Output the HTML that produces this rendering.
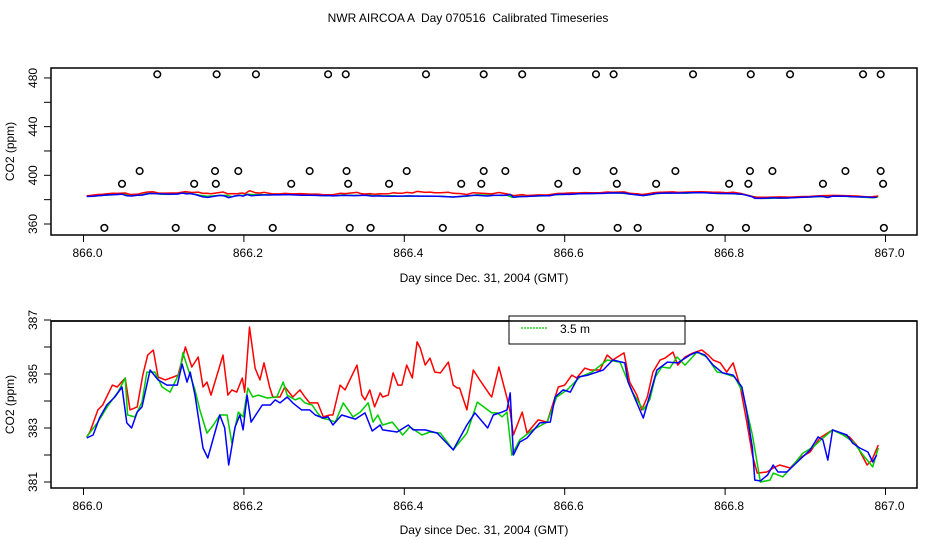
<!DOCTYPE html>
<html><head><meta charset="utf-8"><style>
html,body{margin:0;padding:0;background:#fff;}
svg{display:block;font-family:"Liberation Sans",Arial,sans-serif;}
text{white-space:pre;}
</style></head><body>
<svg id="chart" width="936" height="540" viewBox="0 0 936 540" xmlns="http://www.w3.org/2000/svg">
<text x="468" y="22" text-anchor="middle" font-size="12">NWR AIRCOA A  Day 070516  Calibrated Timeseries</text>
<g id="topPanel"></g>
<g id="botPanel"></g>
</svg>
<script>
const redT=[.004,.008,.018,.024,.036,.042,.052,.058,.067,.074,.080,.087,.093,.102,.112,.118,.127,.135,.143,.149,.154,.159,.174,.180,.185,.191,.198,.201,.207,.214,.220,.225,.232,.236,.245,.251,.261,.270,.276,.282,.292,.299,.307,.311,.320,.326,.341,.347,.351,.357,.363,.370,.373,.380,.386,.392,.397,.403,.410,.416,.420,.426,.432,.438,.445,.455,.461,.466,.469,.478,.486,.494,.507,.509,.518,.528,.532,.536,.547,.553,.567,.578,.592,.600,.609,.615,.625,.632,.644,.653,.660,.674,.681,.690,.696,.703,.710,.719,.725,.735,.741,.750,.760,.771,.779,.785,.794,.802,.810,.819,.827,.834,.840,.852,.860,.868,.881,.893,.906,.918,.934,.943,.955,.964,.977,.983,.991];
const redV=[382.67,382.85,383.67,383.85,384.59,384.52,384.85,383.67,383.78,384.96,385.70,385.89,384.89,384.78,384.89,384.96,386.00,385.26,385.63,384.52,384.70,384.22,385.70,384.22,384.41,384.33,384.85,384.33,386.74,385.22,384.78,385.41,384.52,384.15,384.15,384.52,384.15,384.41,384.15,383.93,383.93,383.41,383.48,383.48,384.59,384.41,385.33,384.22,384.04,384.41,383.78,384.30,384.15,384.22,385.04,384.59,384.59,385.33,384.85,386.19,385.96,385.33,385.59,385.07,385.04,385.44,384.59,384.48,384.48,383.67,385.15,384.78,384.22,384.15,385.26,384.11,383.59,382.74,383.59,382.81,383.30,383.22,384.52,384.59,384.96,384.85,385.22,385.15,385.15,385.70,385.52,385.78,384.70,384.22,383.67,384.15,385.07,385.52,385.59,385.81,385.33,385.63,385.78,385.89,385.70,385.52,385.41,385.07,385.41,384.52,383.22,382.00,381.33,381.37,381.52,381.63,381.52,381.89,382.11,382.63,382.93,382.81,382.67,382.37,381.63,381.81,382.37];
const greenT=[.004,.018,.031,.043,.052,.055,.064,.073,.079,.089,.098,.108,.120,.124,.130,.139,.145,.154,.162,.170,.179,.185,.193,.199,.205,.211,.218,.229,.241,.249,.254,.264,.270,.276,.285,.291,.297,.307,.314,.324,.336,.345,.355,.361,.367,.373,.385,.398,.407,.422,.432,.445,.461,.469,.478,.491,.504,.509,.516,.522,.528,.534,.544,.560,.578,.590,.603,.619,.634,.653,.669,.678,.685,.698,.706,.713,.721,.731,.740,.750,.765,.777,.790,.797,.812,.822,.834,.844,.856,.860,.872,.883,.897,.910,.922,.934,.947,.960,.972,.984,.991];
const greenV=[382.67,383.22,383.85,384.33,384.85,383.48,383.41,383.96,385.07,385.07,384.52,384.33,385.07,385.78,385.22,384.41,383.67,382.81,383.11,383.48,383.48,382.44,383.59,383.41,384.48,384.15,384.22,384.11,384.15,384.70,384.22,384.04,384.11,383.93,383.85,383.59,383.37,383.30,383.22,383.93,383.41,383.59,383.93,383.22,383.48,383.11,383.22,382.74,383.04,382.74,382.85,382.81,382.19,382.48,382.81,383.96,383.67,383.56,383.56,383.41,383.59,382.00,382.56,382.93,383.22,384.15,384.41,384.89,385.07,385.52,385.44,384.78,384.30,383.67,384.04,384.89,385.26,385.22,385.63,385.33,385.81,385.63,385.07,385.04,384.89,384.33,382.74,381.00,381.07,381.33,381.19,381.56,382.07,382.30,382.63,382.93,382.74,382.48,382.00,381.56,382.26];
const blueT=[.004,.012,.020,.029,.039,.048,.054,.060,.067,.073,.083,.093,.104,.117,.123,.129,.133,.139,.149,.155,.170,.176,.181,.189,.195,.199,.204,.209,.223,.233,.239,.245,.254,.261,.272,.282,.289,.299,.305,.311,.322,.339,.351,.360,.370,.373,.391,.405,.411,.426,.441,.461,.478,.488,.504,.511,.522,.528,.532,.536,.544,.553,.569,.582,.588,.598,.607,.617,.629,.648,.660,.675,.679,.690,.698,.709,.715,.728,.741,.756,.765,.775,.785,.797,.810,.821,.827,.834,.837,.844,.853,.860,.866,.877,.890,.906,.916,.922,.928,.934,.952,.959,.968,.978,.984,.989];
const blueV=[382.63,382.74,383.37,383.85,384.15,384.52,383.19,383.00,383.59,383.78,385.15,384.78,384.59,384.59,385.37,384.70,385.07,384.22,382.26,381.89,383.48,383.00,381.63,383.04,383.48,382.93,384.22,383.22,383.85,383.85,384.04,383.93,384.15,383.93,383.67,383.67,383.48,383.37,383.41,383.11,383.48,383.33,383.56,382.89,383.11,382.93,382.85,383.11,382.93,382.93,382.81,382.19,383.11,383.56,383.00,383.48,383.59,383.67,384.30,382.00,382.48,382.63,383.19,383.22,384.15,384.41,384.33,384.89,384.96,385.15,385.52,385.41,384.70,383.93,383.37,384.52,385.15,385.44,385.41,385.70,385.81,385.70,385.33,385.04,384.96,384.52,383.59,382.26,381.07,381.04,381.26,381.63,381.37,381.37,381.74,382.19,382.67,382.56,381.81,382.93,382.74,382.44,382.26,382.11,381.74,382.00];
const circleT=[.092,.166,.215,.305,.327,.427,.499,.547,.639,.661,.760,.832,.881,.972,.994,.070,.164,.193,.282,.328,.403,.499,.526,.615,.661,.738,.831,.859,.950,.994,.048,.138,.165,.259,.330,.381,.471,.496,.592,.665,.714,.805,.829,.922,.997,.026,.115,.160,.236,.332,.358,.448,.494,.570,.666,.691,.781,.826,.903,.998];
const circleV=[483,483,483,483,483,483,483,483,483,483,483,483,483,483,483,403.5,403.5,403.5,403.5,403.5,403.5,403.5,403.5,403.5,403.5,403.5,403.5,403.5,403.5,403.5,393,393,393,393,393,393,393,393,393,393,393,393,393,393,393,356.8,356.8,356.8,356.8,356.8,356.8,356.8,356.8,356.8,356.8,356.8,356.8,356.8,356.8,356.8];
const xTicks=[866.0,866.2,866.4,866.6,866.8,867.0];
const xTickLabels=["866.0","866.2","866.4","866.6","866.8","867.0"];
const topYTicks=[360,380,400,420,440,460,480];
const topYLabels=["360","400","440","480"];
const botYTicks=[381,382,383,384,385,386,387];
const botYLabels=["381","383","385","387"];

const NS="http://www.w3.org/2000/svg";
function mk(parent,tag,attrs){const e=document.createElementNS(NS,tag);for(const k in attrs)e.setAttribute(k,attrs[k]);parent.appendChild(e);return e;}
const xS=d=>83.5+(d-866)*802;

function panel(g,y0,y1,yS,yTicks,yLabels,prefix,xLabelY){
  const box=mk(g,'rect',{x:51,y:y0,width:866,height:y1-y0,fill:'none',stroke:'#000','stroke-width':1.5});
  
  
  xTicks.forEach((d,i)=>{
    const t=mk(g,'line',{x1:xS(d),x2:xS(d),y1:y1,y2:y1+7,stroke:'#000','stroke-width':1});
    
    
    const l=mk(g,'text',{x:xS(d)+4,y:y1+22,'text-anchor':'middle','font-size':12});
    l.textContent=xTickLabels[i];
    
    
  });
  yTicks.forEach(v=>{
    const t=mk(g,'line',{x1:44,x2:51,y1:yS(v),y2:yS(v),stroke:'#000','stroke-width':1});
    
    
  });
  yLabels.forEach(s=>{
    const v=parseFloat(s);
    const l=mk(g,'text',{x:0,y:0,'text-anchor':'middle','font-size':12,transform:`translate(37,${yS(v)}) rotate(-90)`});
    l.textContent=s;
    
    
  });
  const yt=mk(g,'text',{x:0,y:0,'text-anchor':'middle','font-size':12,transform:`translate(14,${(y0+y1)/2}) rotate(-90)`});
  yt.textContent='CO2 (ppm)';
  
  
  const xt=mk(g,'text',{x:484,y:xLabelY,'text-anchor':'middle','font-size':12});
  xt.textContent='Day since Dec. 31, 2004 (GMT)';
  
  
}
function series(g,T,V,yS,color,name){
  const p=T.map((t,i)=>xS(866+t).toFixed(1)+','+yS(V[i]).toFixed(1)).join(' ');
  const l=mk(g,'polyline',{points:p,fill:'none',stroke:color,'stroke-width':1.5,'stroke-linejoin':'round'});
  
  
}
// top panel
const topG=document.getElementById('topPanel');
const yTop=v=>224-(v-360)*1.217;
panel(topG,68,235,yTop,topYTicks,topYLabels,'top',282);
series(topG,greenT,greenV,yTop,'#00cc00','top-series-green');
series(topG,redT,redV.map(v=>v+0.6),yTop,'#ff0000','top-series-red');
series(topG,blueT,blueV,yTop,'#0000ff','top-series-blue');
circleT.forEach((t,i)=>{
  const c=mk(topG,'circle',{cx:xS(866+t),cy:yTop(circleV[i]),r:3.3,fill:'none',stroke:'#000','stroke-width':1.5});
  
  
});
// bottom panel
const botG=document.getElementById('botPanel');
const yBot=v=>482-(v-381)*27;
panel(botG,321,488,yBot,botYTicks,botYLabels,'bottom',534);
series(botG,redT,redV,yBot,'#ff0000','series-red');
series(botG,greenT,greenV,yBot,'#00cc00','series-green-3-5m');
series(botG,blueT,blueV,yBot,'#0000ff','series-blue');
const lg=mk(botG,'g',{});


mk(lg,'rect',{x:509,y:316,width:176,height:28,fill:'#fff',stroke:'#000','stroke-width':1});
const fl=mk(botG,'line',{x1:51,x2:917,y1:321,y2:321,stroke:'#000','stroke-width':1.5});


const ll=mk(botG,'line',{x1:521,x2:548,y1:328,y2:328,stroke:'#00cc00','stroke-width':1.2,'stroke-dasharray':'2,1'});


const lt=mk(botG,'text',{x:560,y:333,'font-size':12});
lt.textContent='3.5 m';


</script>
</body></html>
